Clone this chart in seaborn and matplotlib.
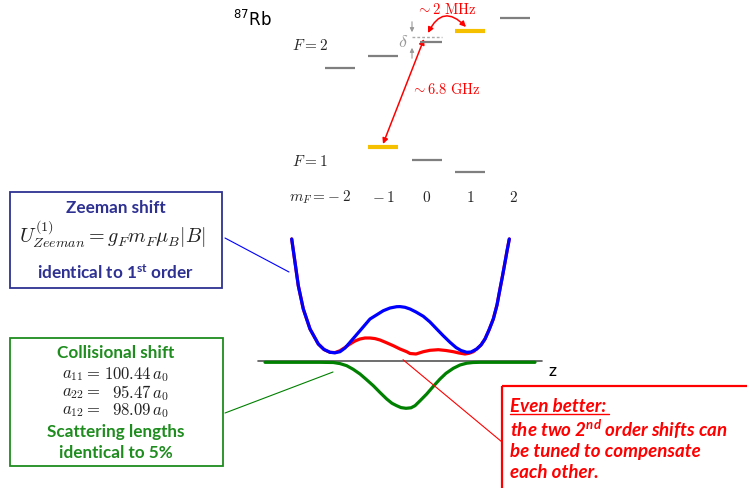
import numpy as np
import pandas as pd
import seaborn as sns
import matplotlib.pyplot as plt
from matplotlib.patches import Rectangle, FancyArrowPatch

sns.set_theme(style="white")
plt.rcParams['font.family'] = ['Lato', 'DejaVu Sans']
plt.rcParams['mathtext.fontset'] = 'custom'
plt.rcParams['mathtext.bf'] = 'Lato:bold'
plt.rcParams['mathtext.it'] = 'Lato:italic:bold'
plt.rcParams['mathtext.rm'] = 'Lato'

# ---------------- data (pixel units) ----------------
# potential curves
blue_x = [291.7, 295, 298.3, 303.3, 310, 318.3, 324, 330, 335, 340, 345, 350, 355, 360, 370, 383.3, 390,
          396.7, 400, 405, 410, 416, 423.3, 430, 436.7, 443, 450, 456, 461, 466.7, 471, 476.7, 481, 485,
          489, 493.3, 497, 500, 502.5, 505, 507.2, 509.3]
blue_y = [240, 263.3, 286.7, 310, 330, 345, 350.5, 353.3, 353.8, 352.7, 349, 343.3, 337.5, 331.7, 320,
          311.7, 309, 307.7, 307.6, 308.3, 310, 313, 317.3, 323, 330, 336.5, 343.3, 348.5, 351.5, 353.3,
          353, 350, 346, 340, 331, 320, 306, 290, 277, 263.3, 251, 240]
red_x = [291.7, 295, 298.3, 303.3, 310, 318.3, 324, 330, 335, 340, 345, 350, 355, 360, 365, 370, 375,
         380, 386, 393.3, 400, 406.7, 410, 416, 423.3, 430, 438.3, 446, 453.3, 459, 465, 469, 473.3, 476.7,
         481, 485, 489, 493.3, 497, 500, 502.5, 505, 507.2, 509.3]
red_y = [240, 263.3, 286.7, 310, 330, 345, 350.5, 353.3, 353.6, 351.7, 348.5, 345, 342, 340, 339, 339,
         339.6, 341, 343.5, 346.7, 350, 352.7, 354.5, 355, 352.7, 351.3, 350.7, 351.5, 352.7, 354, 355,
         354.3, 352.7, 350, 346, 340, 331, 320, 306, 290, 277, 263.3, 251, 240]
green_x = [265, 300, 320, 333.3, 340, 346.7, 353, 360, 366, 373.3, 380, 386.7, 392, 396.7, 401, 406,
           411, 415, 420, 426.7, 433, 440, 446, 453.3, 460, 466.7, 473, 480, 500, 535]
green_y = [363.3, 363.3, 363.3, 363.5, 364.6, 366.7, 370.2, 375, 380.2, 386.7, 393.5, 400, 404.3, 406.7,
           408.6, 409.3, 408.8, 406.7, 401.8, 395, 387.7, 380, 374.3, 369.3, 366, 364.2, 363.5, 363.3,
           363.3, 363.3]
axis_x = [258, 542]
axis_y = [362.3, 362.3]

# hyperfine levels (x start, x end, y)
f2_levels = [(325, 355, 69.3), (368, 398, 56.7), (420, 442, 43.3), (455, 485, 31.7), (500, 530, 19)]
f2_yellow = [False, False, False, True, False]
f1_levels = [(368, 398, 147.7), (412, 442, 161), (455, 485, 173.3)]
f1_yellow = [True, False, False]
mf_labels = ["$m_F = \\!-2$", "$-\\,1$", "$0$", "$1$", "$2$"]
mf_x = [320, 383, 427, 470, 513]

c_blue_txt = '#2e3192'
c_green_txt = '#1e8c1e'
c_red = '#ff0000'
c_gray = '#7f7f7f'
c_yellow = '#f5c000'

# ---------------- figure ----------------
fig = plt.figure(figsize=(7.47, 4.89), dpi=100)
ax = fig.add_axes([0, 0, 1, 1])
ax.set_xlim(0, 747)
ax.set_ylim(489, 0)
ax.axis('off')

# curves via seaborn
sns.lineplot(x=axis_x, y=axis_y, ax=ax, color='#555555', lw=1.2, sort=False, estimator=None)
sns.lineplot(x=green_x, y=green_y, ax=ax, color='#008000', lw=2.3, sort=False, estimator=None)
sns.lineplot(x=red_x, y=red_y, ax=ax, color=c_red, lw=2.3, sort=False, estimator=None)
sns.lineplot(x=blue_x, y=blue_y, ax=ax, color='#0000ff', lw=2.3, sort=False, estimator=None)
ax.text(549, 371, 'z', fontsize=13, ha='left', va='center', color='black')

# connector lines
ax.plot([225, 289], [239, 273], color='#0000ff', lw=0.8)
ax.plot([225, 333], [414, 373], color='#008000', lw=0.8)
ax.plot([403, 502], [360.7, 443], color=c_red, lw=0.8)

# ---------------- level diagram ----------------
for (x0, x1, y), yel in zip(f2_levels, f2_yellow):
    ax.plot([x0, x1], [y, y], color=c_yellow if yel else c_gray, lw=3 if yel else 1.6,
            solid_capstyle='butt')
for (x0, x1, y), yel in zip(f1_levels, f1_yellow):
    ax.plot([x0, x1], [y, y], color=c_yellow if yel else c_gray, lw=3 if yel else 1.6,
            solid_capstyle='butt')
for lab, x in zip(mf_labels, mf_x):
    ax.text(x, 197, lab, fontsize=11, ha='center', va='center', math_fontfamily='cm')
ax.text(292, 45, '$F = 2$', fontsize=11, ha='left', va='center', math_fontfamily='cm')
ax.text(292, 162, '$F = 1$', fontsize=11, ha='left', va='center', math_fontfamily='cm')
ax.text(233, 20, '$^{87}$Rb', fontsize=12, ha='left', va='center', color='black',
        fontfamily='DejaVu Sans', math_fontfamily='dejavusans')

# delta marker
ax.plot([412, 442], [38.3, 38.3], color='#aaaaaa', lw=1, ls=(0, (2, 1.5)))
ax.annotate('', xy=(412, 36), xytext=(412, 20),
            arrowprops=dict(arrowstyle='-|>', color='#999999', lw=0.8, mutation_scale=6))
ax.annotate('', xy=(412, 46), xytext=(412, 62),
            arrowprops=dict(arrowstyle='-|>', color='#999999', lw=0.8, mutation_scale=6))
ax.text(403, 42, r'$\delta$', fontsize=13, ha='center', va='center', color='#999999',
        math_fontfamily='cm')

# red arrows
ax.add_patch(FancyArrowPatch((383, 145), (424, 40), arrowstyle='<|-|>', color=c_red, lw=1.1,
                             mutation_scale=8, shrinkA=0, shrinkB=0))
ax.add_patch(FancyArrowPatch((428, 34), (466, 28), arrowstyle='<|-|>', color=c_red, lw=1.1,
                             mutation_scale=8, shrinkA=0, shrinkB=0,
                             connectionstyle='arc3,rad=-0.7'))
ax.text(446, 89, r'$\sim 6.8\ \mathrm{GHz}$', fontsize=10.5, color=c_red, ha='center', va='center',
        math_fontfamily='cm')
ax.text(446, 10, r'$\sim 2\ \mathrm{MHz}$', fontsize=10.5, color=c_red, ha='center', va='center',
        math_fontfamily='cm')

# ---------------- boxes ----------------
ax.add_patch(Rectangle((10, 193), 212, 96, fill=False, ec=c_blue_txt, lw=1.3))
ax.text(116, 208, 'Zeeman shift', fontsize=12.3, fontweight='bold', color=c_blue_txt,
        ha='center', va='center')
ax.text(112, 234, r'$U^{(1)}_{Zeeman} = g_F m_F \mu_B |B|$', fontsize=14.5, color='#222222',
        ha='center', va='center', math_fontfamily='cm')
ax.text(116, 273, r'identical to 1$^{\mathbf{st}}$ order', fontsize=12.3, fontweight='bold',
        color=c_blue_txt, ha='center', va='center')

ax.add_patch(Rectangle((10, 339), 213, 128, fill=False, ec=c_green_txt, lw=1.3))
ax.text(116, 353, 'Collisional shift', fontsize=12.3, fontweight='bold', color=c_green_txt,
        ha='center', va='center')
for lab, val, y in [('$a_{11} =$', r'$100.44\,a_0$', 375), ('$a_{22} =$', r'$95.47\,a_0$', 393),
                    ('$a_{12} =$', r'$98.09\,a_0$', 411)]:
    ax.text(62, y, lab, fontsize=12, color='#222222', ha='left', va='center', math_fontfamily='cm')
    ax.text(169, y, val, fontsize=12, color='#222222', ha='right', va='center', math_fontfamily='cm')
ax.text(116, 432, 'Scattering lengths', fontsize=12.3, fontweight='bold', color=c_green_txt,
        ha='center', va='center')
ax.text(116, 453, 'identical to 5%', fontsize=12.3, fontweight='bold', color=c_green_txt,
        ha='center', va='center')

ax.add_patch(Rectangle((502, 387), 260, 120, fill=False, ec=c_red, lw=1.6, clip_on=False))
red_lines = ['Even better:', r'the two 2$^{nd}$ order shifts can', 'be tuned to compensate', 'each other.']
for t, y in zip(red_lines, [406, 429, 451, 472]):
    ax.text(510, y, t, fontsize=13.5, fontweight='bold', style='italic', color=c_red,
            ha='left', va='center')
ax.plot([510, 609], [415, 415], color=c_red, lw=1)

fig.savefig('out.png', dpi=100)
